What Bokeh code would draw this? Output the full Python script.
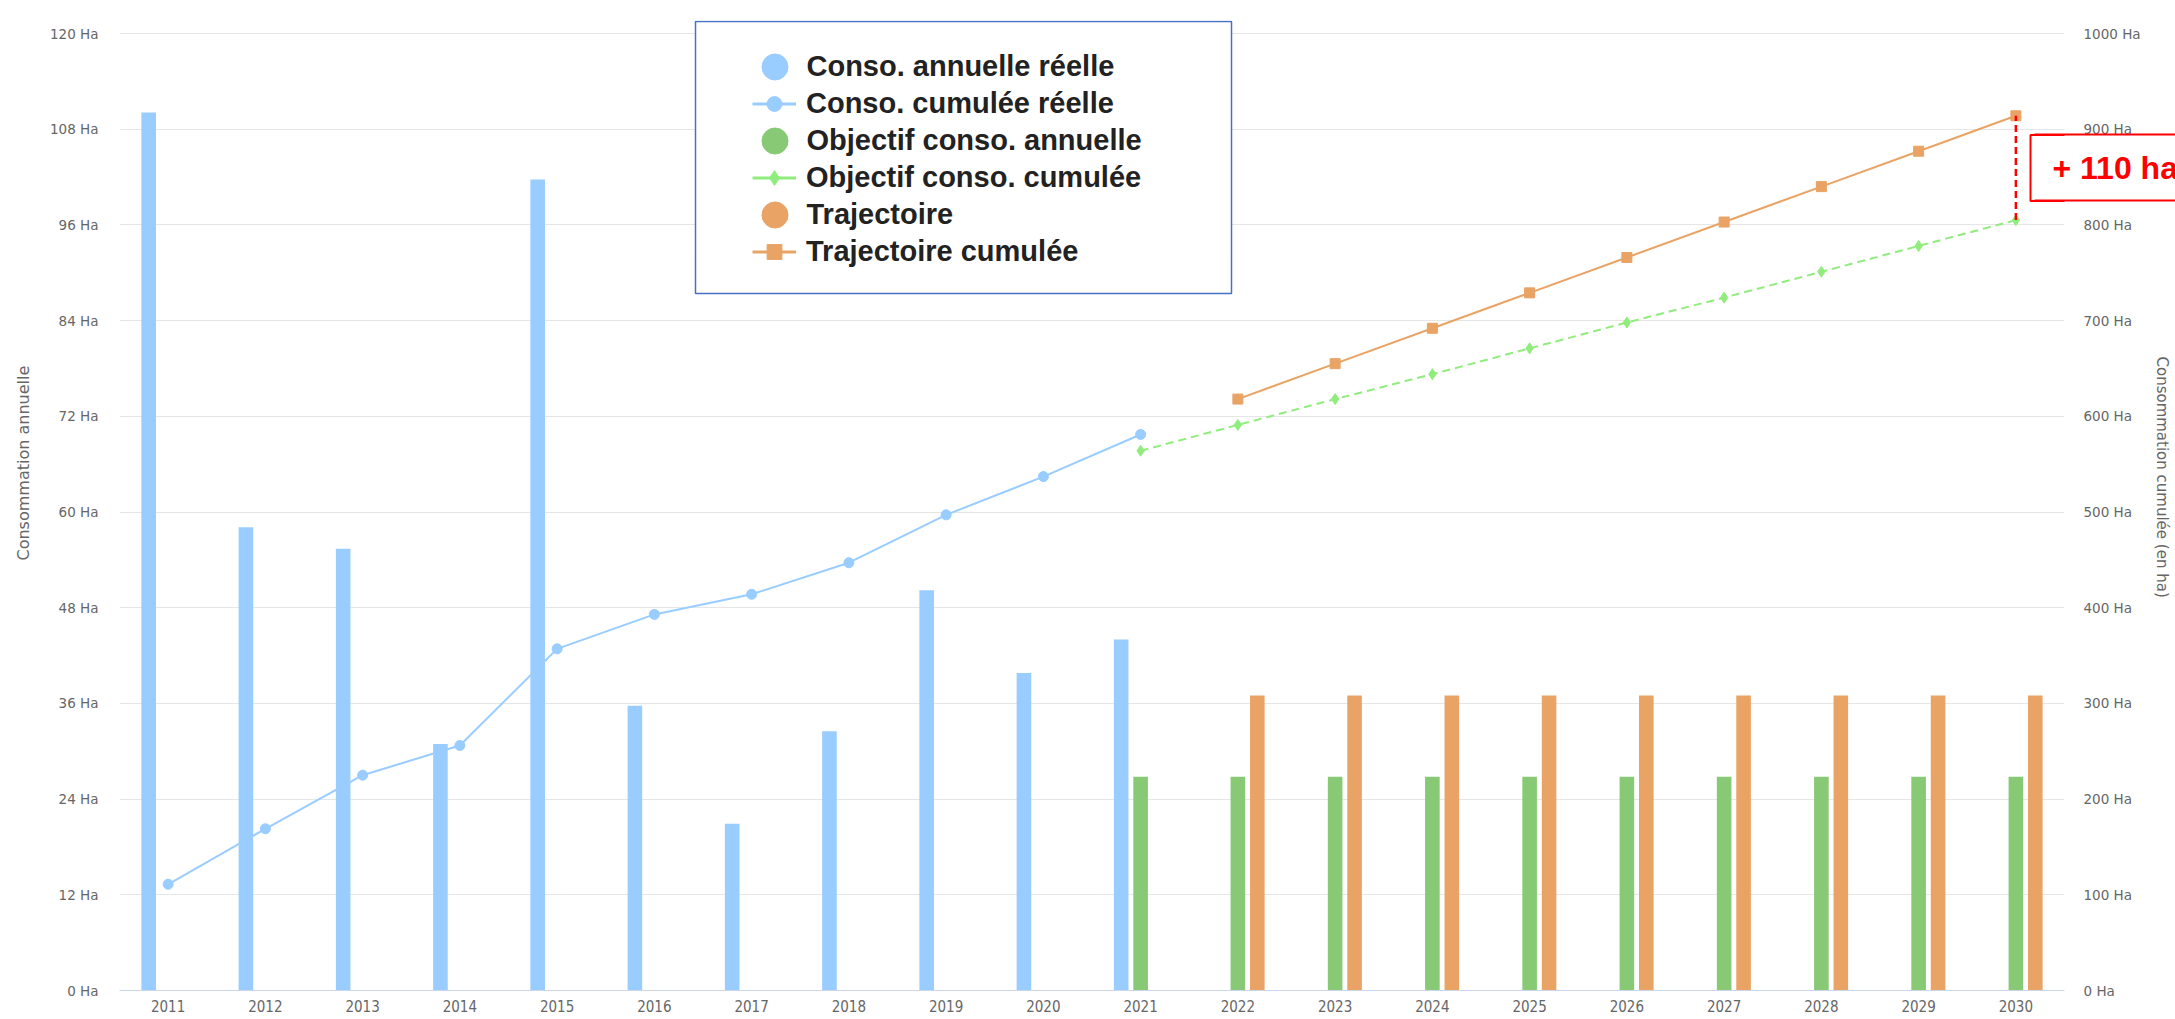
from bokeh.plotting import figure
from bokeh.models import (FactorRange, Range1d, LinearAxis, FixedTicker, ColumnDataSource,
                          Legend, LegendItem, BoxAnnotation, Title)
from bokeh.transform import dodge
from bokeh.embed import file_html
from bokeh.resources import INLINE

# ---------------- data ----------------
years = ["2011", "2012", "2013", "2014", "2015", "2016", "2017", "2018", "2019", "2020",
         "2021", "2022", "2023", "2024", "2025", "2026", "2027", "2028", "2029", "2030"]

real_years = ["2011", "2012", "2013", "2014", "2015", "2016", "2017", "2018", "2019", "2020", "2021"]
annual_real = [110.1, 58.1, 55.4, 30.9, 101.7, 35.7, 20.9, 32.5, 50.2, 39.8, 44.0]
cum_real = [111, 169, 225, 256, 357, 393, 414, 447, 497, 537, 581]

obj_years = ["2021", "2022", "2023", "2024", "2025", "2026", "2027", "2028", "2029", "2030"]
obj_annual = [26.8, 26.8, 26.8, 26.8, 26.8, 26.8, 26.8, 26.8, 26.8, 26.8]
obj_cum = [564, 591, 618, 644, 671, 698, 724, 751, 778, 805]

traj_years = ["2022", "2023", "2024", "2025", "2026", "2027", "2028", "2029", "2030"]
traj_annual = [37.0, 37.0, 37.0, 37.0, 37.0, 37.0, 37.0, 37.0, 37.0]
traj_cum = [618, 655, 692, 729, 766, 803, 840, 877, 914]

left_ticks = [0, 12, 24, 36, 48, 60, 72, 84, 96, 108, 120]
right_ticks = [0, 100, 200, 300, 400, 500, 600, 700, 800, 900, 1000]
unit = "Ha"

legend_labels = ["Conso. annuelle réelle", "Conso. cumulée réelle", "Objectif conso. annuelle",
                 "Objectif conso. cumulée", "Trajectoire", "Trajectoire cumulée"]
annotation_text = "+ 110 ha"
left_title = "Consommation annuelle"
right_title = "Consommation cumulée (en ha)"

# ---------------- styles / layout ----------------
BLUE = "#99CCFF"
GREEN_BAR = "#87C974"
GREEN_LINE = "#90ED7D"
ORANGE = "#E9A365"
GRID = "#E6E6E6"
LABEL = "#666666"
TICK_FONT = "DejaVu Sans"
X_FONT = "DejaVu Sans Condensed"
LEG_FONT = dict(label_text_font="Liberation Sans", label_text_font_style="bold",
                label_text_font_size="29px", label_text_color="#222222")

FRAME_W = 1945
TICK_SPAN = 957      # pixels between lowest and highest tick
FRAME_H = 970        # frame a little taller than the tick span (room for the legend box)
PX_PER_CUM = TICK_SPAN / right_ticks[-1]

src_real = ColumnDataSource(dict(x=real_years, a=annual_real, c=cum_real))
src_obj = ColumnDataSource(dict(x=obj_years, a=obj_annual, c=obj_cum))
src_traj = ColumnDataSource(dict(x=traj_years, a=traj_annual, c=traj_cum))

p = figure(x_range=FactorRange(factors=years, range_padding=0),
           y_range=Range1d(0, left_ticks[-1] * FRAME_H / TICK_SPAN),
           frame_width=FRAME_W, frame_height=FRAME_H,
           min_border_left=117, min_border_right=112, min_border_top=20, min_border_bottom=0,
           output_backend="svg", toolbar_location=None)
p.outline_line_color = None
p.background_fill_color = "white"
p.border_fill_color = "white"
p.extra_y_ranges = {"cum": Range1d(0, right_ticks[-1] * FRAME_H / TICK_SPAN)}

def style_y(ax, ticks, standoff):
    ax.ticker = FixedTicker(ticks=ticks)
    ax.major_label_overrides = {t: f"{t} {unit}" for t in ticks}
    ax.axis_line_color = None
    ax.major_tick_line_color = None
    ax.minor_tick_line_color = None
    ax.major_tick_out = 0
    ax.minor_tick_out = 0
    ax.major_label_text_font = TICK_FONT
    ax.major_label_text_font_size = "13.5px"
    ax.major_label_text_color = LABEL
    ax.major_label_standoff = standoff

ya = p.yaxis[0]
style_y(ya, left_ticks, 21)

ra = LinearAxis(y_range_name="cum")
style_y(ra, right_ticks, 19)
p.add_layout(ra, "right")

# axis titles (side titles, shifted along the axis like the original)
lt = Title(text=left_title, align="left", vertical_align="top", offset=430, standoff=26,
           text_font=TICK_FONT, text_font_size="16px", text_font_style="normal", text_color=LABEL)
p.add_layout(lt, "left")
rt = Title(text=right_title, align="left", vertical_align="top", offset=336, standoff=15,
           text_font=TICK_FONT, text_font_size="15px", text_font_style="normal", text_color=LABEL)
p.add_layout(rt, "right")

# x axis
xa = p.xaxis[0]
xa.axis_line_color = "#CCD6EB"
xa.major_tick_line_color = None
xa.minor_tick_line_color = None
xa.major_tick_out = 0
xa.major_label_text_font = X_FONT
xa.major_label_text_font_size = "15px"
xa.major_label_text_color = LABEL
xa.major_label_standoff = 9

p.xgrid.visible = False
p.ygrid.ticker = FixedTicker(ticks=left_ticks)
p.ygrid.grid_line_color = GRID

# bars
p.vbar(x=dodge("x", -0.2, range=p.x_range), top="a", width=0.15, source=src_real,
       fill_color=BLUE, line_color=None)
p.vbar(x=dodge("x", 0.0, range=p.x_range), top="a", width=0.15, source=src_obj,
       fill_color=GREEN_BAR, line_color=None)
p.vbar(x=dodge("x", 0.2, range=p.x_range), top="a", width=0.15, source=src_traj,
       fill_color=ORANGE, line_color=None)

# cumulative lines
p.line(x="x", y="c", source=src_real, y_range_name="cum", line_color=BLUE, line_width=2)
p.scatter(x="x", y="c", source=src_real, y_range_name="cum", marker="circle", size=10,
          fill_color=BLUE, line_color=BLUE)
p.line(x="x", y="c", source=src_obj, y_range_name="cum", line_color=GREEN_LINE, line_width=2,
       line_dash="8 5")
p.scatter(x="x", y="c", source=src_obj, y_range_name="cum", marker="diamond", size=11,
          fill_color=GREEN_LINE, line_color=GREEN_LINE)
p.line(x="x", y="c", source=src_traj, y_range_name="cum", line_color=ORANGE, line_width=2)
p.scatter(x="x", y="c", source=src_traj, y_range_name="cum", marker="square", size=10,
          fill_color=ORANGE, line_color=ORANGE)

# gap marker between the two cumulative end points
p.segment(x0=[traj_years[-1]], x1=[traj_years[-1]], y0=[obj_cum[-1]], y1=[traj_cum[-1]],
          y_range_name="cum", line_color="red", line_width=2.5, line_dash="7 4")

# hidden renderers used only for the legend symbols
def hidden_scatter(src, col, marker, color):
    return p.scatter(x="x", y=col, source=src, marker=marker, fill_color=color,
                     line_color=color, visible=False)

def hidden_line(src, col, color):
    return p.line(x="x", y=col, source=src, line_color=color, line_width=3, visible=False)

big1 = hidden_scatter(src_real, "a", "circle", BLUE)
d2l = hidden_line(src_real, "a", BLUE)
d2p = hidden_scatter(src_real, "a", "circle", BLUE)
big3 = hidden_scatter(src_obj, "a", "circle", GREEN_BAR)
d4l = hidden_line(src_obj, "a", GREEN_LINE)
d4p = hidden_scatter(src_obj, "a", "diamond", GREEN_LINE)
big5 = hidden_scatter(src_traj, "a", "circle", ORANGE)
d6l = hidden_line(src_traj, "a", ORANGE)
d6p = hidden_scatter(src_traj, "a", "square", ORANGE)

# legend frame (screen units, relative to the plot frame)
box = BoxAnnotation(left=576, right=1112, top=969, bottom=697,
                    left_units="screen", right_units="screen", top_units="screen", bottom_units="screen",
                    fill_color="white", fill_alpha=1.0, line_color="#4472C4", line_alpha=1.0,
                    line_width=1.5)
p.add_layout(box)

LEG_X, LEG_Y, ROW = 633, 720, 37
# line series rows (2nd, 4th, 6th)
line_legend = Legend(items=[LegendItem(label=legend_labels[1], renderers=[d2l, d2p]),
                            LegendItem(label=legend_labels[3], renderers=[d4l, d4p]),
                            LegendItem(label=legend_labels[5], renderers=[d6l, d6p])],
                     location=(LEG_X, LEG_Y), glyph_width=44, glyph_height=ROW, spacing=ROW,
                     label_height=ROW, padding=0, margin=0, label_standoff=10,
                     border_line_alpha=0, background_fill_alpha=0, inactive_fill_alpha=0,
                     **LEG_FONT)
p.add_layout(line_legend, "center")

# column series rows (1st, 3rd, 5th) with large round symbols
BIG = 65
for row, rend in [(0, big1), (2, big3), (4, big5)]:
    cy = LEG_Y + 6 * ROW - ROW / 2 - row * ROW
    sym = Legend(items=[LegendItem(label=legend_labels[row], renderers=[rend])],
                 location=(LEG_X + 22 - BIG / 2, cy - BIG / 2),
                 glyph_width=BIG, glyph_height=BIG, label_height=BIG,
                 label_standoff=0, padding=0, margin=0, spacing=0,
                 border_line_alpha=0, background_fill_alpha=0, inactive_fill_alpha=0,
                 **LEG_FONT)
    p.add_layout(sym, "center")

# red "+ 110 ha" note: box edge inside the frame, the rest drawn by two helper axes
mid = (traj_cum[-1] + obj_cum[-1]) / 2
half = 33 / PX_PER_CUM
note_box = BoxAnnotation(left=1911, right=2100,
                         top=(mid + half) * PX_PER_CUM, bottom=(mid - half) * PX_PER_CUM,
                         left_units="screen", right_units="screen", top_units="screen",
                         bottom_units="screen", fill_alpha=0.0,
                         line_color="red", line_alpha=1.0, line_width=2)
p.add_layout(note_box)

edges = LinearAxis(y_range_name="cum", ticker=FixedTicker(ticks=[mid - half, mid + half]))
edges.axis_line_color = None
edges.minor_tick_line_color = None
edges.major_tick_out = 0
edges.major_tick_in = 144
edges.major_tick_line_color = "red"
edges.major_tick_line_width = 2
edges.major_label_text_color = None
edges.major_label_standoff = 0
p.add_layout(edges, "right")

note = LinearAxis(y_range_name="cum", ticker=FixedTicker(ticks=[mid]))
note.major_label_overrides = {mid: annotation_text}
note.axis_line_color = None
note.minor_tick_line_color = None
note.major_tick_line_color = None
note.major_tick_out = 0
note.major_tick_in = 0
note.major_label_text_font = "Liberation Sans"
note.major_label_text_font_style = "bold"
note.major_label_text_font_size = "32px"
note.major_label_text_color = "red"
note.major_label_standoff = -126
p.add_layout(note, "right")

open("out.html", "w").write(file_html(p, INLINE, title="Consommation"))
